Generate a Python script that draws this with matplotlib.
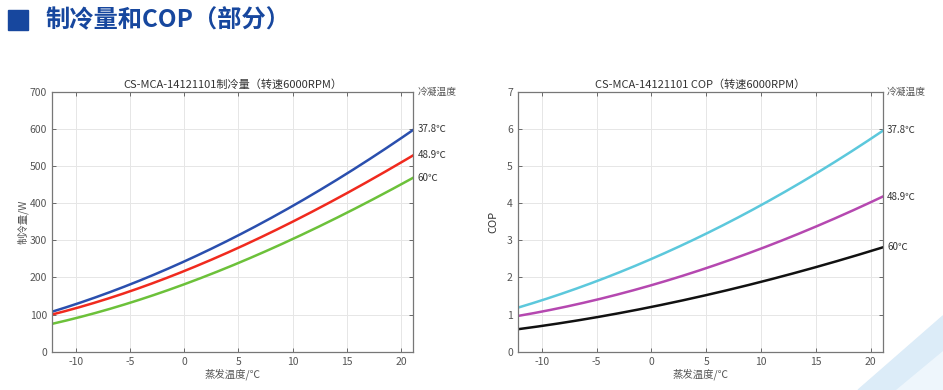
import numpy as np
import matplotlib.pyplot as plt
from matplotlib.patches import Rectangle, Polygon

plt.rcParams['font.family'] = ['Noto Sans CJK SC', 'DejaVu Sans']
plt.rcParams['axes.unicode_minus'] = False

# evaporating temperature (°C)
evap_t = [-12.2, -10, -5, 0, 5, 10, 15, 20, 21.1]

# cooling capacity (W) per condensing temperature
cap_378 = [108, 127, 183, 242, 313, 392, 482, 570, 600]
cap_489 = [100, 117, 164, 216, 280, 350, 428, 507, 530]
cap_600 = [75, 90, 133, 181, 239, 302, 376, 450, 468]

# COP per condensing temperature
cop_378 = [1.18, 1.39, 1.91, 2.49, 3.17, 3.95, 4.81, 5.69, 5.97]
cop_489 = [0.96, 1.08, 1.41, 1.80, 2.23, 2.77, 3.39, 4.02, 4.17]
cop_600 = [0.61, 0.69, 0.93, 1.21, 1.52, 1.89, 2.27, 2.71, 2.81]

cond_labels = ["37.8℃", "48.9℃", "60℃"]

fig = plt.figure(figsize=(9.43, 3.9), dpi=100)

# light blue swoosh in the bottom right corner
fig.patches.append(Polygon([(0.91, 0.0), (0.95, 0.0), (1.0, 0.1), (1.0, 0.19)], closed=True,
                           transform=fig.transFigure, color='#dcecf8', zorder=0))
fig.patches.append(Polygon([(0.95, 0.0), (1.0, 0.0), (1.0, 0.1)], closed=True,
                           transform=fig.transFigure, color='#eef6fc', zorder=0))

# header
fig.patches.append(Rectangle((0.009, 0.922), 0.021, 0.053, transform=fig.transFigure,
                             color='#17479e', zorder=1))
fig.text(0.048, 0.947, "制冷量和COP（部分）", fontsize=17.5, fontweight='bold',
         color='#17479e', va='center', ha='left')


def smooth(x, y):
    xs = np.linspace(x[0], x[-1], 200)
    c = np.polyfit(x, y, 3)
    return xs, np.polyval(c, xs)


def style_axes(ax, ymax, ystep):
    ax.set_xlim(-12.2, 21.1)
    ax.set_ylim(0, ymax)
    ax.set_xticks([-10, -5, 0, 5, 10, 15, 20])
    ax.set_yticks(np.arange(0, ymax + ystep, ystep))
    ax.grid(True, color='#e6e6e6', linewidth=0.7)
    ax.tick_params(direction='in', top=True, right=True, labelsize=7.5,
                   colors='#555555', length=3, width=0.6)
    for s in ax.spines.values():
        s.set_color('#777777')
        s.set_linewidth(0.9)


def label_ends(ax, ys, ymax):
    for yv, lab in zip(ys, cond_labels):
        ax.text(21.5, yv, lab, fontsize=7, color='#333333', va='center', ha='left')
    ax.text(21.5, ymax, "冷凝温度", fontsize=7, color='#555555', va='center', ha='left')


# left: cooling capacity
ax1 = fig.add_axes([0.055, 0.098, 0.383, 0.667])
for ys, col in zip([cap_378, cap_489, cap_600], ['#2a4fae', '#f02a1e', '#6cc13a']):
    xs, yy = smooth(evap_t, ys)
    ax1.plot(xs, yy, color=col, linewidth=1.8)
style_axes(ax1, 700, 100)
ax1.set_title("CS-MCA-14121101制冷量（转速6000RPM）", fontsize=8, color='#333333', pad=3)
ax1.set_xlabel("蒸发温度/℃", fontsize=7.5, color='#555555', labelpad=1)
ax1.set_ylabel("制冷量/W", fontsize=7.5, color='#555555', labelpad=1)
label_ends(ax1, [cap_378[-1], cap_489[-1], cap_600[-1]], 700)

# right: COP
ax2 = fig.add_axes([0.549, 0.098, 0.387, 0.667])
for ys, col in zip([cop_378, cop_489, cop_600], ['#5cc8dc', '#b548b0', '#111111']):
    xs, yy = smooth(evap_t, ys)
    ax2.plot(xs, yy, color=col, linewidth=1.8)
style_axes(ax2, 7, 1)
ax2.set_title("CS-MCA-14121101 COP（转速6000RPM）", fontsize=8, color='#333333', pad=3)
ax2.set_xlabel("蒸发温度/℃", fontsize=7.5, color='#555555', labelpad=1)
ax2.set_ylabel("COP", fontsize=8, color='#333333', labelpad=6)
label_ends(ax2, [cop_378[-1], cop_489[-1], cop_600[-1]], 7)

fig.savefig("out.png", dpi=100)
